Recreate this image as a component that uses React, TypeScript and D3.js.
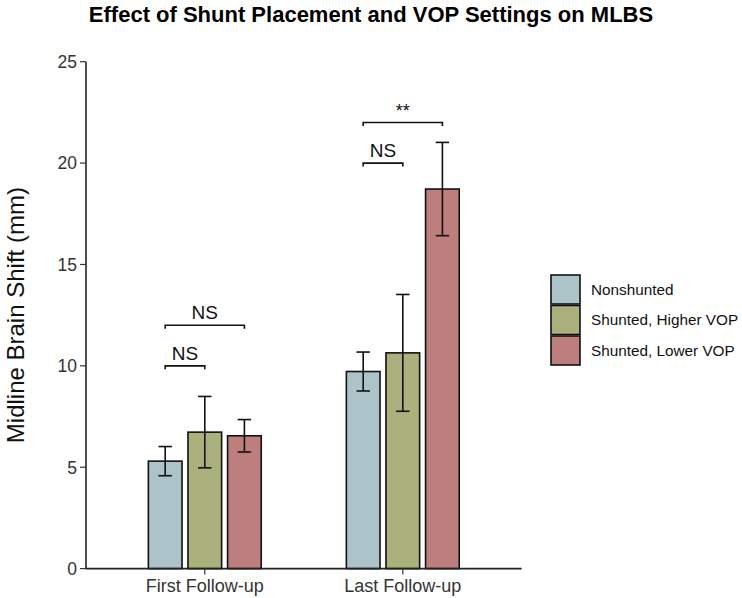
import React from "react";
import * as d3 from "d3";

const groups = ["First Follow-up", "Last Follow-up"];
const series = ["Nonshunted", "Shunted, Higher VOP", "Shunted, Lower VOP"];
const colors = ["#abc3c9", "#aab17d", "#bd7f7e"];
// values[group][series]
const meanFirst = [5.3, 6.73, 6.55];
const errFirst = [0.72, 1.76, 0.8];
const meanLast = [9.72, 10.64, 18.72];
const errLast = [0.96, 2.88, 2.3];
const yTicks = [0, 5, 10, 15, 20, 25];
// brackets: group index, from series, to series, y value, label
const bracketGroup = [0, 0, 1, 1];
const bracketFrom = [0, 0, 0, 0];
const bracketTo = [1, 2, 1, 2];
const bracketY = [10, 12, 20, 22];
const bracketLabel = ["NS", "NS", "NS", "**"];

const W = 742;
const H = 598;
const left = 86;
const right = 521.6;
const top = 61.7;
const bottom = 568.6;

export default function App() {
  const x = d3.scaleLinear().domain([0.4, 2.6]).range([left, right]);
  const unit = x(2) - x(1);
  const inner = d3
    .scaleBand<string>()
    .domain(series)
    .range([-0.3 * unit, 0.3 * unit])
    .paddingInner(0.15)
    .paddingOuter(0.075);
  const y = d3.scaleLinear().domain([0, 25]).range([bottom, top]);
  const means = [meanFirst, meanLast];
  const errs = [errFirst, errLast];
  const cx = (g: number, s: number) =>
    x(g + 1) + (inner(series[s]) as number) + inner.bandwidth() / 2;
  const font = "'Liberation Sans', Arial, sans-serif";

  return (
    <svg
      width={W}
      height={H}
      style={{ position: "absolute", left: 0, top: 0, background: "#fff" }}
      fontFamily={font}
    >
      <text x={371} y={22} textAnchor="middle" fontSize={22} fontWeight="bold" fill="#000">
        Effect of Shunt Placement and VOP Settings on MLBS
      </text>
      {/* bars */}
      {groups.map((g, gi) =>
        series.map((s, si) => {
          const bx = x(gi + 1) + (inner(s) as number);
          const v = means[gi][si];
          return (
            <rect
              key={g + s}
              x={bx}
              y={y(v)}
              width={inner.bandwidth()}
              height={y(0) - y(v)}
              fill={colors[si]}
              stroke="#111"
              strokeWidth={1.6}
            />
          );
        })
      )}
      {/* error bars */}
      {groups.map((g, gi) =>
        series.map((s, si) => {
          const c = cx(gi, si);
          const v = means[gi][si];
          const e = errs[gi][si];
          const hw = 6.7;
          return (
            <g key={"e" + g + s} stroke="#111" strokeWidth={1.6} fill="none">
              <line x1={c} x2={c} y1={y(v + e)} y2={y(v - e)} />
              <line x1={c - hw} x2={c + hw} y1={y(v + e)} y2={y(v + e)} />
              <line x1={c - hw} x2={c + hw} y1={y(v - e)} y2={y(v - e)} />
            </g>
          );
        })
      )}
      {/* brackets */}
      {bracketY.map((bv, i) => {
        const x1 = cx(bracketGroup[i], bracketFrom[i]);
        const x2 = cx(bracketGroup[i], bracketTo[i]);
        const yy = y(bv);
        return (
          <g key={"b" + i}>
            <path
              d={`M${x1},${yy + 3.5}V${yy}H${x2}V${yy + 3.5}`}
              fill="none"
              stroke="#111"
              strokeWidth={1.6}
            />
            <text
              x={(x1 + x2) / 2}
              y={yy - 6}
              textAnchor="middle"
              fontSize={bracketLabel[i] === "**" ? 18 : 19}
              fill="#111"
            >
              {bracketLabel[i]}
            </text>
          </g>
        );
      })}
      {/* y axis */}
      <line x1={left} x2={left} y1={top} y2={bottom} stroke="#222" strokeWidth={1.6} />
      {yTicks.map((t) => (
        <g key={"y" + t}>
          <line x1={left - 6} x2={left} y1={y(t)} y2={y(t)} stroke="#333" strokeWidth={1.2} />
          <text x={left - 9} y={y(t)} dy="0.36em" textAnchor="end" fontSize={17.5} fill="#333">
            {t}
          </text>
        </g>
      ))}
      {/* x axis */}
      <line x1={left} x2={right} y1={bottom} y2={bottom} stroke="#222" strokeWidth={1.6} />
      {groups.map((g, gi) => (
        <g key={"x" + g}>
          <line x1={x(gi + 1)} x2={x(gi + 1)} y1={bottom} y2={bottom + 6} stroke="#333" strokeWidth={1.2} />
          <text x={x(gi + 1)} y={bottom + 23} textAnchor="middle" fontSize={18} fill="#333">
            {g}
          </text>
        </g>
      ))}
      <text
        transform={`translate(24,${(top + bottom) / 2}) rotate(-90)`}
        textAnchor="middle"
        fontSize={24}
        fill="#111"
      >
        Midline Brain Shift (mm)
      </text>
      {/* legend */}
      {series.map((s, si) => (
        <g key={"l" + s} transform={`translate(551,${275 + si * 30.5})`}>
          <rect x={0} y={0} width={29} height={29} fill={colors[si]} stroke="#111" strokeWidth={1.6} />
          <text x={40} y={14.5} dy="0.35em" fontSize={15.3} fill="#111">
            {s}
          </text>
        </g>
      ))}
    </svg>
  );
}
